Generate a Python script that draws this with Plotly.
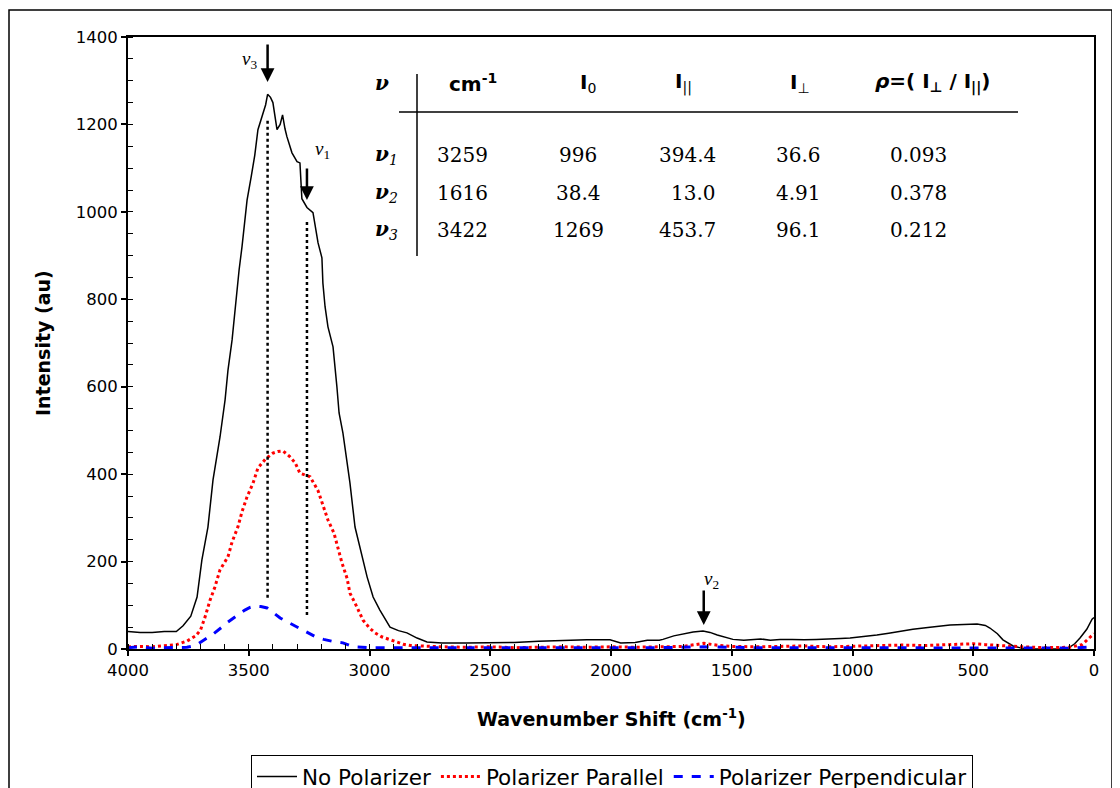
import plotly.graph_objects as go

# ---------------- data ----------------
black_wn = [4000, 3950, 3900, 3850, 3800, 3772, 3740, 3714, 3694, 3669,
            3648, 3619, 3598, 3586, 3569, 3557, 3540, 3528, 3507, 3490,
            3475, 3462, 3445, 3430, 3422, 3410, 3400, 3383, 3370, 3360,
            3350, 3342, 3321, 3300, 3288, 3280, 3259, 3234, 3213, 3197,
            3193, 3184, 3172, 3151, 3135, 3126, 3110, 3081, 3060, 3031,
            3010, 2985, 2957, 2915, 2880, 2845, 2803, 2762, 2700, 2600,
            2500, 2400, 2300, 2200, 2100, 2004, 1960, 1900, 1850, 1800,
            1785, 1740, 1700, 1660, 1619, 1590, 1560, 1530, 1495, 1450,
            1420, 1380, 1340, 1300, 1250, 1200, 1150, 1122, 1050, 1010,
            950, 899, 850, 803, 750, 679, 640, 596, 540, 484,
            450, 431, 400, 377, 335, 300, 250, 200, 150, 112,
            80, 58, 30, 8, 0]
black_y = [40, 38, 38, 40, 40, 53, 75, 119, 204, 279,
           387, 485, 570, 638, 707, 776, 867, 920, 1027, 1080,
           1130, 1188, 1217, 1245, 1269, 1262, 1250, 1188, 1200, 1222,
           1190, 1172, 1135, 1115, 1112, 1030, 1010, 998, 929, 895,
           837, 783, 737, 691, 600, 540, 494, 380, 279, 211,
           165, 119, 89, 50, 42, 37, 25, 16, 14, 14,
           14, 15, 18, 20, 21, 21, 14, 15, 20, 20,
           22, 30, 35, 39, 41, 38, 32, 27, 22, 20,
           21, 23, 20, 22, 22, 21, 22, 23, 24, 25,
           28, 32, 36, 41, 45, 50, 52, 55, 56, 57,
           54, 48, 35, 21, 7, 2, 0, 0, 0, 0,
           12, 25, 45, 68, 72]

red_wn = [4000, 3950, 3900, 3850, 3800, 3756, 3720, 3700, 3681, 3660,
          3640, 3619, 3600, 3586, 3569, 3545, 3528, 3507, 3482, 3462,
          3430, 3400, 3380, 3358, 3330, 3308, 3288, 3259, 3246, 3213,
          3193, 3172, 3147, 3130, 3114, 3093, 3081, 3052, 3027, 3000,
          2977, 2950, 2923, 2890, 2861, 2830, 2800, 2700, 2600, 2500,
          2400, 2300, 2200, 2100, 2000, 1900, 1800, 1700, 1616, 1550,
          1500, 1400, 1300, 1200, 1100, 1000, 900, 800, 700, 600,
          500, 450, 400, 300, 200, 100, 50, 0]
red_y = [5, 6, 5, 8, 10, 18, 30, 43, 73, 112,
         142, 181, 200, 211, 245, 279, 314, 348, 380, 414,
         435, 448, 452, 453, 440, 426, 402, 396, 394, 362,
         327, 295, 265, 231, 197, 162, 128, 96, 66, 48,
         37, 28, 23, 16, 11, 8, 7, 5, 4, 5,
         3, 4, 5, 4, 5, 4, 5, 6, 13, 8,
         6, 5, 6, 7, 5, 6, 8, 9, 8, 10,
         12, 10, 8, 5, 3, 4, 10, 35]

blue_wn = [4000, 3950, 3900, 3850, 3800, 3756, 3720, 3700, 3676, 3652,
           3630, 3611, 3590, 3565, 3540, 3516, 3495, 3474, 3450, 3424,
           3400, 3370, 3350, 3329, 3300, 3275, 3245, 3217, 3190, 3164,
           3140, 3110, 3090, 3068, 3000, 2900, 2800, 2600, 2400, 2200,
           2000, 1800, 1616, 1400, 1200, 1000, 800, 600, 400, 200,
           100, 0]
blue_y = [3, 5, 2, 3, 3, 4, 8, 16, 24, 32,
          41, 50, 60, 69, 80, 89, 95, 98, 97, 94,
          84, 71, 65, 59, 50, 43, 34, 26, 22, 18,
          16, 14, 10, 5, 3, 3, 2, 2, 2, 2,
          2, 3, 5, 3, 3, 3, 3, 3, 3, 2,
          2, 5]

series_names = ["No Polarizer", "Polarizer Parallel", "Polarizer Perpendicular"]

# band table
band_names = ["1", "2", "3"]
band_cm = ["3259", "1616", "3422"]
band_I0 = ["996", "38.4", "1269"]
band_Ipar = ["394.4", "13.0", "453.7"]
band_Iperp = ["36.6", "4.91", "96.1"]
band_rho = ["0.093", "0.378", "0.212"]

# peak markers (arrows + labels)
peak_wn = [3259, 1616, 3422]
arrow_tip = [1027, 55, 1297]
label_wn = [3195, 1582, 3495]
label_y = [1142, 158, 1348]
# dotted guide lines (wavenumber, bottom, top)
guide_wn = [3422, 3259]
guide_bottom = [117, 78]
guide_top = [1215, 977]

y_ticks = [0, 200, 400, 600, 800, 1000, 1200, 1400]
x_ticks = [4000, 3500, 3000, 2500, 2000, 1500, 1000, 500, 0]

# ---------------- figure ----------------
OFF = 8  # page body margin
W, H = 1120, 788
L = 128 - OFF
T = 37 - OFF
R = W - (1094 - OFF)
B = H - (649 - OFF)
pw, ph = W - L - R, H - T - B


def px(xp):
    """reference page pixel x -> paper coordinate"""
    return (xp - OFF - L) / pw


def py(yp):
    """reference page pixel y -> paper coordinate"""
    return (H - B - (yp - OFF)) / ph


fig = go.Figure()
fig.add_trace(go.Scatter(x=black_wn, y=black_y, mode="lines", name=series_names[0],
                         line=dict(color="black", width=1.5)))
fig.add_trace(go.Scatter(x=red_wn, y=red_y, mode="lines", name=series_names[1],
                         line=dict(color="#ff0000", width=3, dash="dot")))
fig.add_trace(go.Scatter(x=blue_wn, y=blue_y, mode="lines", name=series_names[2],
                         line=dict(color="#0000ff", width=3, dash="dash")))

for gx, gb, gt in zip(guide_wn, guide_bottom, guide_top):
    fig.add_trace(go.Scatter(x=[gx, gx], y=[gb, gt], mode="lines", showlegend=False,
                             hoverinfo="skip", line=dict(color="black", width=2.5, dash="dot")))

axis_font = dict(family="DejaVu Sans", size=16.5, color="black")
fig.update_xaxes(range=[4000, 0], tickvals=x_ticks, showgrid=False, zeroline=False,
                 showline=True, linecolor="black", linewidth=2, mirror=True,
                 ticks="outside", ticklen=5, tickwidth=1.5, tickcolor="black",
                 minor=dict(ticks="inside", dtick=100, ticklen=5, tickcolor="black", tickwidth=1),
                 tickfont=axis_font)
fig.update_yaxes(range=[0, 1400], tickvals=y_ticks, showgrid=False, zeroline=False,
                 showline=True, linecolor="black", linewidth=2, mirror=True,
                 ticks="outside", ticklen=5, tickwidth=1.5, tickcolor="black",
                 minor=dict(ticks="inside", dtick=50, ticklen=5, tickcolor="black", tickwidth=1),
                 tickfont=axis_font)

ann = []
title_font = dict(family="DejaVu Sans", size=19, color="black")
ann.append(dict(xref="paper", yref="paper", x=px(43), y=py(343), text="<b>Intensity (au)</b>",
                textangle=-90, showarrow=False, xanchor="center", yanchor="middle",
                font=title_font))
ann.append(dict(xref="paper", yref="paper", x=px(611), y=py(718),
                text="<b>Wavenumber Shift (cm<sup>-1</sup>)</b>", showarrow=False,
                xanchor="center", yanchor="middle", font=title_font))

# arrows and labels
lab_font = dict(family="Liberation Serif", size=19, color="black")
arrow_len = [-33, -36, -39]
for wn, tip, al, lx, ly, nm in zip(peak_wn, arrow_tip, arrow_len, label_wn, label_y, band_names):
    ann.append(dict(x=wn, y=tip, xref="x", yref="y", text="", showarrow=True,
                    ax=0, ay=al, arrowhead=2, arrowsize=1.1, arrowwidth=2.5, arrowcolor="black"))
    ann.append(dict(x=lx, y=ly, xref="x", yref="y", text=f"<i>ν</i><sub>{nm}</sub>",
                    showarrow=False, xanchor="center", yanchor="middle", font=lab_font))


def tab(xx, yy, text, font, anchor="center"):
    ann.append(dict(xref="paper", yref="paper", x=px(xx), y=py(yy), text=text,
                    showarrow=False, xanchor=anchor, yanchor="middle", font=font))


# table
hdr_font = dict(family="DejaVu Sans", size=20, color="black")
num_font = dict(family="DejaVu Serif", size=20, color="black")
nu_font = dict(family="DejaVu Serif", size=20, color="black")
tab(382, 83, "<b><i>ν</i></b>", nu_font)
tab(473, 83, "<b>cm<sup>-1</sup></b>", hdr_font)
tab(588, 83, "<b>I</b><sub>0</sub>", hdr_font)
tab(683, 83, "<b>I</b><sub>||</sub>", hdr_font)
tab(800, 83, "<b>I</b><sub>⊥</sub>", hdr_font)
tab(873, 83, "<b><i>ρ</i>=( I<sub>⊥</sub> / I<sub>||</sub>)</b>", hdr_font, "left")

row_y = [155, 193, 230]
for i in range(3):
    yy = row_y[i]
    tab(386, yy, f"<b><i>ν</i></b><sub><i>{band_names[i]}</i></sub>", nu_font)
    tab(462, yy, band_cm[i], num_font)
    tab(578, yy, band_I0[i], num_font)
    tab(718, yy, band_Ipar[i], num_font, "right")
    tab(798, yy, band_Iperp[i], num_font)
    tab(888, yy, band_rho[i], num_font, "left")

shapes = [
    dict(type="line", xref="paper", yref="paper", x0=px(399), x1=px(1018), y0=py(112), y1=py(112),
         line=dict(color="black", width=1.5)),
    dict(type="line", xref="paper", yref="paper", x0=px(417), x1=px(417), y0=py(74), y1=py(256),
         line=dict(color="black", width=1.5)),
    dict(type="rect", xref="paper", yref="paper", x0=px(9), x1=px(1112), y0=py(830), y1=py(10),
         line=dict(color="black", width=1.5)),
]

fig.update_layout(
    width=W, height=H,
    margin=dict(l=L, r=R, t=T, b=B, autoexpand=False),
    paper_bgcolor="white", plot_bgcolor="white",
    annotations=ann, shapes=shapes,
    showlegend=True,
    legend=dict(orientation="h", x=px(612), xanchor="center", y=py(755), yanchor="top",
                bordercolor="black", borderwidth=1, bgcolor="white",
                font=dict(family="DejaVu Sans", size=21.5, color="black"),
                itemwidth=40, tracegroupgap=0),
    font=dict(family="DejaVu Sans", color="black"),
)

fig.write_html("out.html")
